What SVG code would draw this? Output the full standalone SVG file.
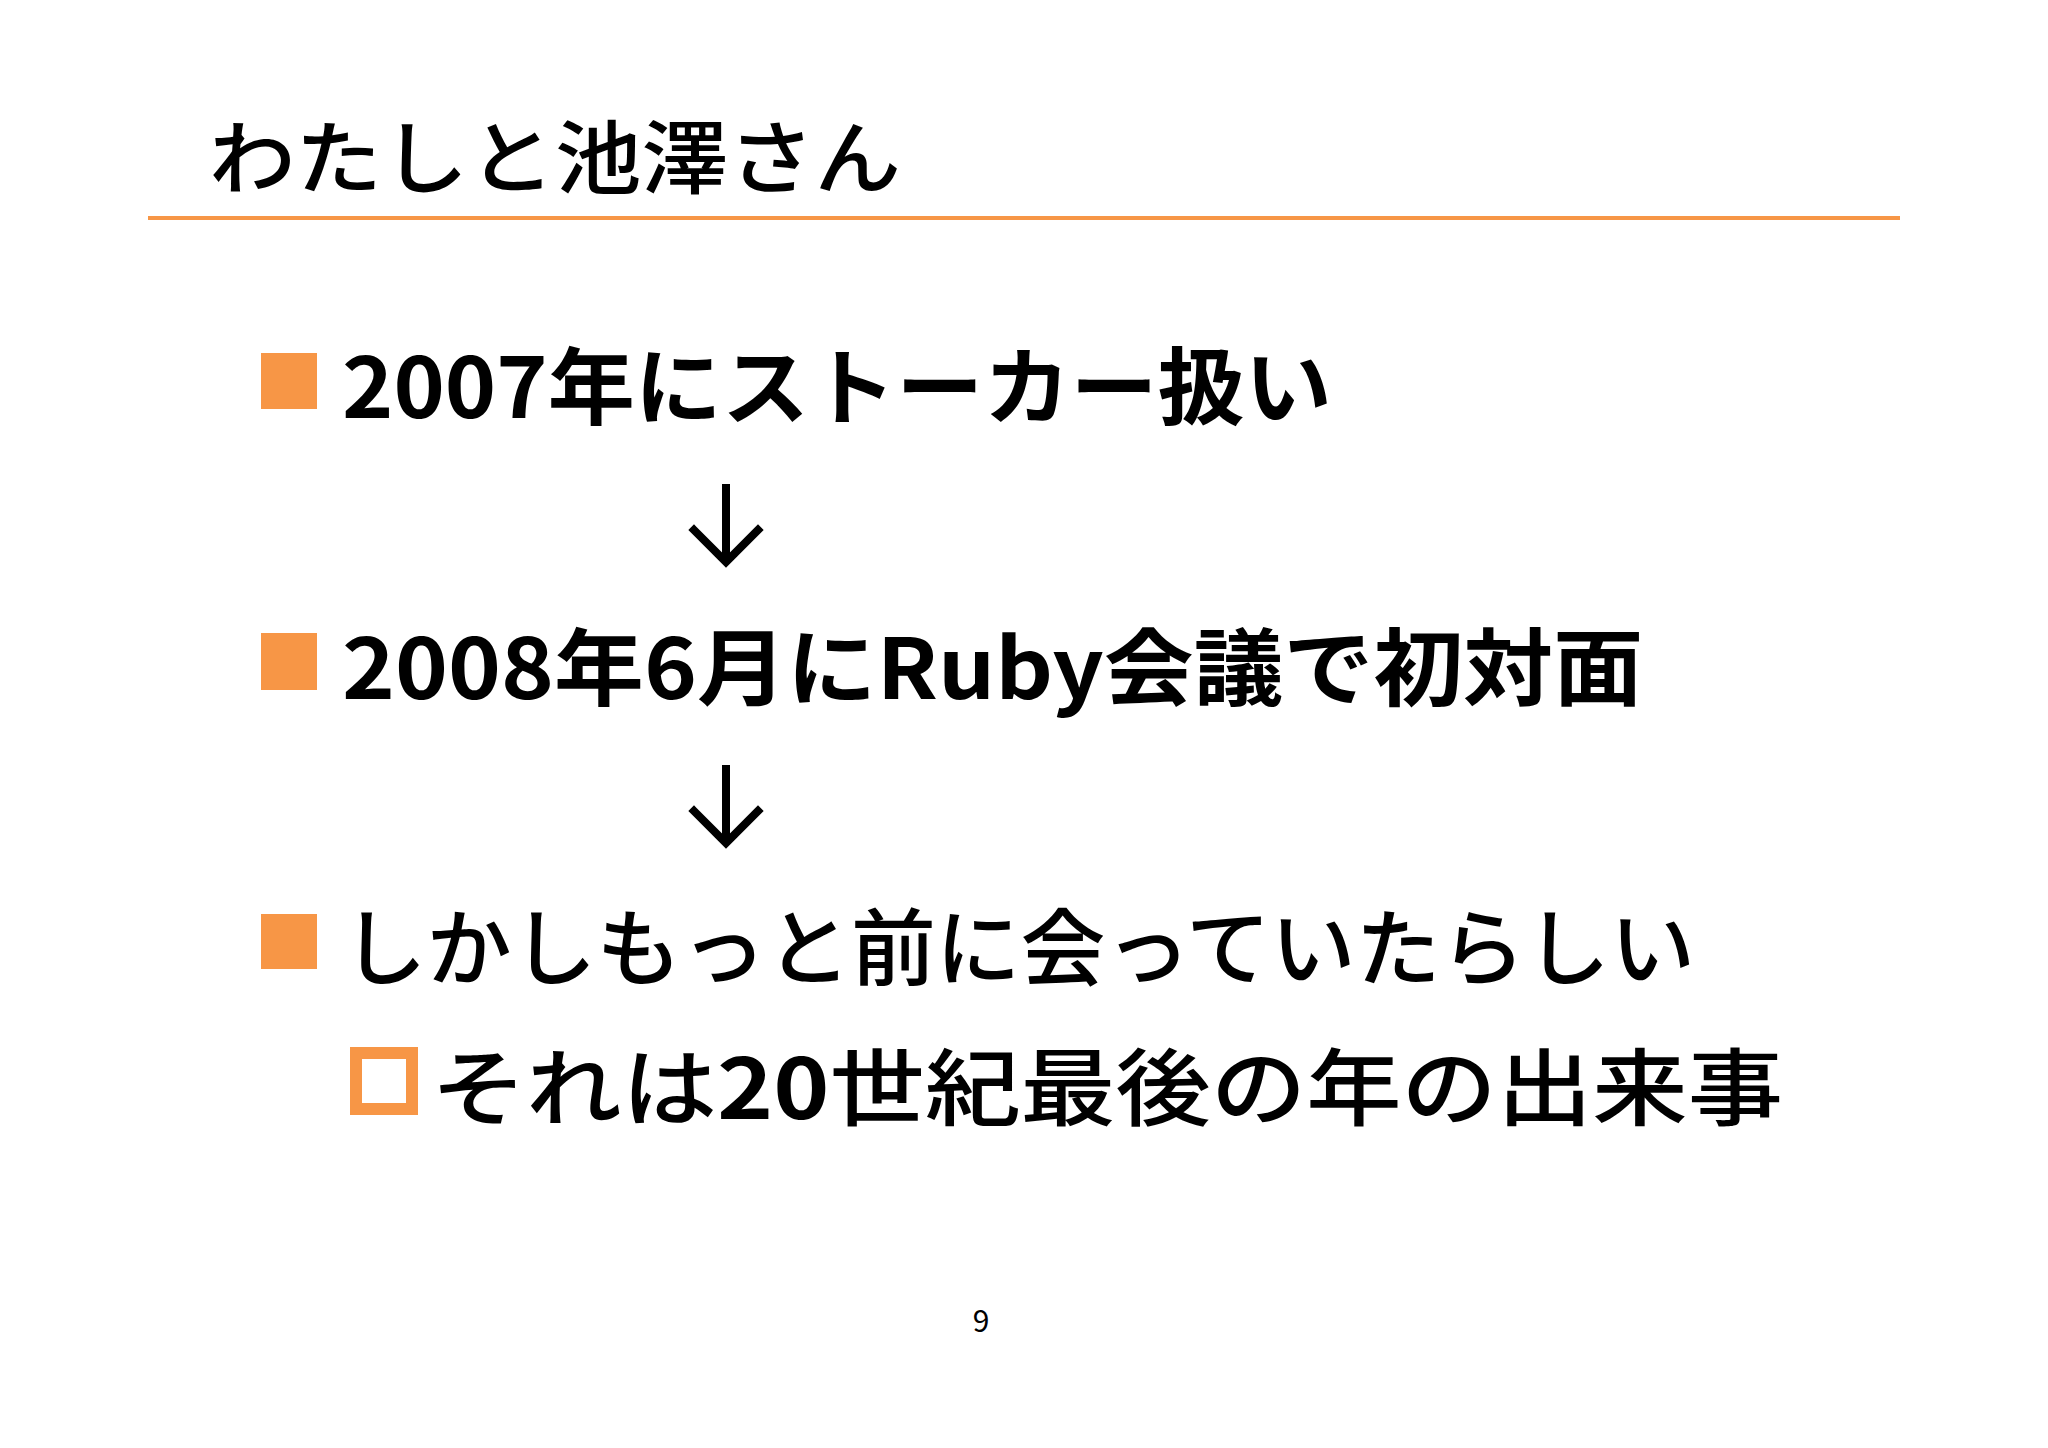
<svg xmlns="http://www.w3.org/2000/svg" width="2048" height="1448" viewBox="0 0 2048 1448">
<style>
.t{font-family:"Noto Sans CJK JP","Noto Sans",sans-serif;fill:#000}
.b{font-weight:bold}
.m{font-weight:500}
.sq{fill:#f79646}
.ar{stroke:#000;stroke-width:8;fill:none;stroke-linecap:square}
</style>
<rect width="2048" height="1448" fill="#fff"/>
<g id="title">
<text class="t m" x="209" y="187" font-size="80" textLength="692" lengthAdjust="spacingAndGlyphs">わたしと池澤さん</text>
<line x1="148" y1="218" x2="1900" y2="218" stroke="#f79646" stroke-width="4"/>
</g>
<g id="item1">
<rect class="sq" x="261" y="353" width="56" height="56"/>
<text class="t b" x="342" y="418" font-size="84" textLength="990" lengthAdjust="spacingAndGlyphs">2007年にストーカー扱い</text>
</g>
<g id="item2">
<rect class="sq" x="261" y="633" width="56" height="57"/>
<text class="t b" x="342" y="699" font-size="84" textLength="1301" lengthAdjust="spacingAndGlyphs">2008年6月にRuby会議で初対面</text>
</g>
<g id="item3">
<rect class="sq" x="261" y="914" width="56" height="55"/>
<text class="t m" x="342" y="979" font-size="84" textLength="1353" lengthAdjust="spacingAndGlyphs">しかしもっと前に会っていたらしい</text>
</g>
<g id="item4">
<rect x="356" y="1053" width="56" height="56" fill="none" stroke="#f79646" stroke-width="12"/>
<text class="t m" x="431" y="1119" font-size="84" textLength="1352" lengthAdjust="spacingAndGlyphs">それは<tspan class="b">20</tspan>世紀最後の年の出来事</text>
</g>
<g id="connectors">
<line class="ar" x1="726" y1="488" x2="726" y2="558"/>
<polyline class="ar" points="694,530 726,562 758,530"/>
<line class="ar" x1="726" y1="769" x2="726" y2="839"/>
<polyline class="ar" points="694,811 726,843 758,811"/>
</g>
<g id="page">
<text class="t" x="981" y="1332" font-size="30" text-anchor="middle">9</text>
</g>
</svg>
